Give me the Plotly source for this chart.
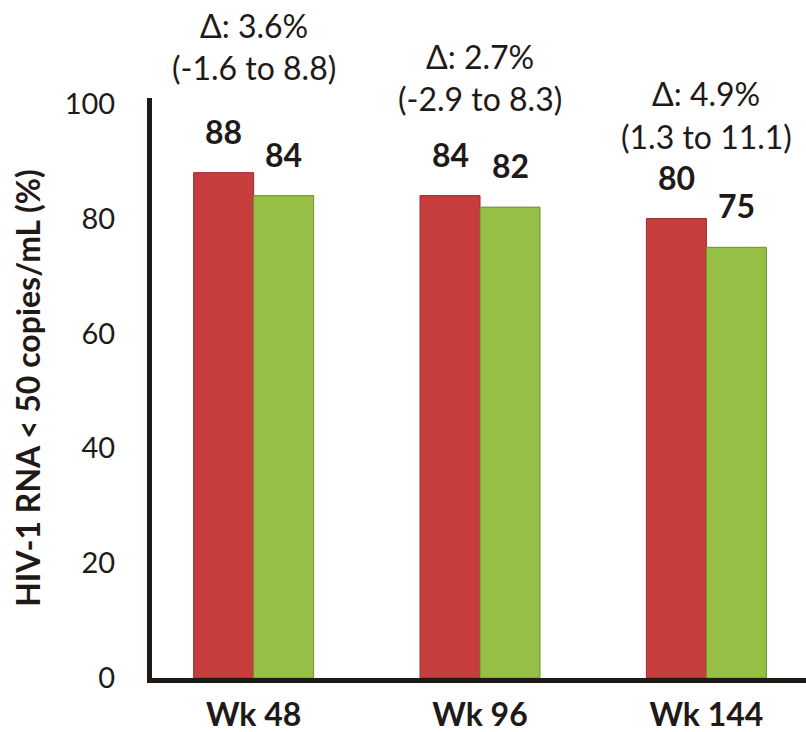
import plotly.graph_objects as go

# Virologic response by visit, two treatment arms
weeks = ["Wk 48", "Wk 96", "Wk 144"]
arm_a = [88, 84, 80]
arm_b = [84, 82, 75]
delta = ["3.6%", "2.7%", "4.9%"]
ci_text = ["(-1.6 to 8.8)", "(-2.9 to 8.3)", "(1.3 to 11.1)"]
y_ticks = [0, 20, 40, 60, 80, 100]

INK = "#1f1a17"
FONT = "Lato"

W, H = 806, 732
M_L, M_R, M_T, M_B = 152, 0, 98, 54
X_RANGE = [-0.449, 2.44]
BARGAP = 0.47

plot_w = W - M_L - M_R
plot_h = H - M_T - M_B
px_per_cat = plot_w / (X_RANGE[1] - X_RANGE[0])
bar_px = (1 - BARGAP) / 2 * px_per_cat

fig = go.Figure()
fig.add_trace(go.Bar(
    x=weeks, y=arm_a, name="Arm A",
    marker=dict(color="#c73c3c", line=dict(color="#9a2c2c", width=1)),
))
fig.add_trace(go.Bar(
    x=weeks, y=arm_b, name="Arm B",
    marker=dict(color="#97bf46", line=dict(color="#6f8f30", width=1)),
))

annotations = []
# Bold value labels above each bar
for series, shift in ((arm_a, -bar_px / 2), (arm_b, bar_px / 2)):
    for wk, v in zip(weeks, series):
        annotations.append(dict(
            x=wk, xref="x", y=v, yref="y", xshift=shift, yshift=20,
            yanchor="bottom", text=f"<b>{v}</b>", showarrow=False,
            font=dict(family=FONT, size=32, color=INK),
        ))

# Treatment difference and 95% CI above each visit (pixel heights from the top)
delta_top = [25, 57, 94]
line_gap = 42
for wk, d, ci, top in zip(weeks, delta, ci_text, delta_top):
    for txt, ypix in ((f"Δ: {d}", top), (ci, top + line_gap)):
        annotations.append(dict(
            x=wk, xref="x", y=(H - M_B - ypix) / plot_h, yref="paper",
            yanchor="middle", text=txt, showarrow=False,
            font=dict(family=FONT, size=32, color=INK),
        ))

fig.update_layout(
    width=W, height=H,
    margin=dict(l=M_L, r=M_R, t=M_T, b=M_B, autoexpand=False),
    paper_bgcolor="white", plot_bgcolor="white",
    barmode="group", bargap=BARGAP, bargroupgap=0,
    showlegend=False,
    annotations=annotations,
    font=dict(family=FONT, color=INK),
)
fig.update_yaxes(
    range=[0, 101], tickvals=y_ticks, showgrid=False, zeroline=False,
    showline=True, linecolor=INK, linewidth=5, automargin=False,
    tickfont=dict(family=FONT, size=29, color=INK), ticklabelstandoff=26,
    title=dict(text="<b>HIV-1 RNA < 50 copies/mL (%)</b>",
               font=dict(family=FONT, size=32, color=INK), standoff=16),
)
fig.update_xaxes(
    range=X_RANGE, showgrid=False, zeroline=False,
    showline=True, linecolor=INK, linewidth=5, automargin=False,
    tickfont=dict(family=FONT, size=32, color=INK), ticklabelstandoff=5,
    tickprefix="<b>", ticksuffix="</b>",
)

fig.write_html("out.html")
